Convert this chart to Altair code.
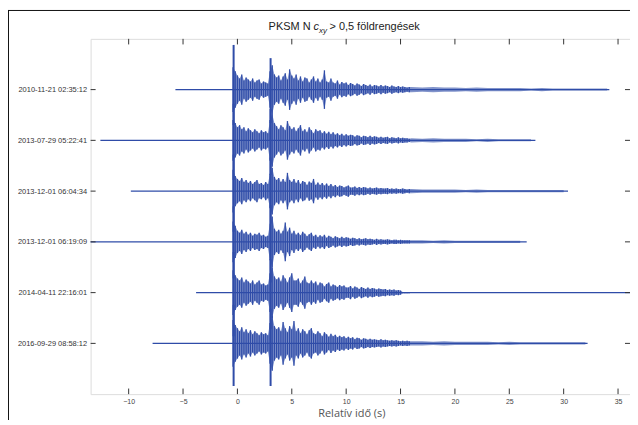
import altair as alt
import pandas as pd

# ---- data ----
TRACE_LABELS = ["2010-11-21 02:35:12", "2013-07-29 05:22:41", "2013-12-01 06:04:34",
                "2013-12-01 06:19:09", "2014-04-11 22:16:01", "2016-09-29 08:58:12"]
REC_START = [-5.7, -12.6, -9.8, -13.5, -3.8, -7.8]
REC_END = [34.2, 27.4, 30.4, 26.6, 36.1, 32.2]
X_TICKS = [-10, -5, 0, 5, 10, 15, 20, 25, 30, 35]
X_MIN, X_MAX = -13.5, 36.1

# envelope (% of trace spacing), sampled every 0.2 s from -0.4 s
ENV_T0, ENV_DT = -0.4, 0.2
ENV_1 = [44, 36, 28, 22, 30, 18, 24, 20, 16, 22, 14, 18, 20, 12, 16, 14, 12, 36, 48, 30,
         24, 28, 18, 26, 32, 20, 40, 28, 22, 30, 18, 26, 16, 24, 22, 14, 20, 26, 16, 22,
         14, 20, 38, 16, 14, 22, 14, 12, 18, 10, 15, 12, 14, 9, 13, 11, 8, 12, 10, 7,
         11, 9, 7, 10, 6, 9, 8, 6, 9, 6, 8, 7, 5, 8, 6, 5, 7, 5, 6, 5, 4, 5]
ENV_2 = [40, 34, 26, 30, 22, 26, 18, 24, 20, 16, 22, 18, 14, 20, 16, 18, 14, 40, 52, 34,
         28, 22, 30, 26, 20, 38, 28, 22, 26, 18, 24, 30, 18, 22, 16, 26, 20, 14, 22, 18,
         20, 14, 18, 13, 17, 12, 16, 11, 14, 10, 13, 9, 12, 9, 11, 10, 7, 10, 9, 6,
         9, 8, 6, 9, 6, 8, 7, 5, 7, 5, 6, 7, 4, 6, 5, 4, 6, 4, 5, 4, 4, 3]
ENV_3 = [42, 30, 24, 20, 26, 18, 22, 16, 20, 14, 18, 22, 14, 16, 12, 18, 14, 34, 46, 28,
         22, 26, 18, 24, 18, 36, 22, 18, 24, 16, 22, 14, 20, 18, 12, 19, 16, 24, 12, 17,
         12, 16, 11, 15, 10, 14, 9, 12, 8, 11, 10, 7, 9, 11, 7, 7, 9, 6, 8, 6,
         8, 7, 5, 7, 5, 6, 7, 5, 6, 5, 5, 6, 4, 5, 4, 5, 4, 4, 5, 4, 3, 4]
ENV_4 = [40, 32, 22, 18, 24, 16, 20, 14, 18, 12, 16, 14, 18, 12, 14, 10, 12, 36, 50, 26,
         20, 24, 16, 22, 38, 20, 28, 16, 22, 14, 18, 13, 20, 16, 11, 15, 18, 11, 14, 9,
         13, 10, 14, 8, 12, 10, 7, 11, 9, 7, 10, 7, 9, 8, 6, 8, 7, 5, 7, 5,
         6, 7, 5, 6, 5, 4, 6, 4, 5, 4, 4, 5, 4, 3, 4, 4, 3, 4, 3, 3, 3, 3]
ENV_5 = [44, 34, 28, 24, 30, 20, 26, 22, 18, 24, 16, 20, 24, 16, 18, 14, 16, 38, 50, 32,
         26, 30, 22, 34, 28, 20, 30, 38, 24, 24, 28, 18, 24, 32, 20, 18, 24, 18, 22, 14,
         20, 18, 12, 17, 20, 12, 16, 14, 11, 15, 12, 14, 10, 10, 13, 8, 12, 10, 7, 11,
         9, 7, 10, 7, 9, 8, 6, 8, 7, 6, 7, 5, 6, 5, 6, 4, 5, 4, 1, 1, 1, 1]
ENV_6 = [46, 36, 30, 24, 32, 22, 28, 20, 26, 18, 24, 20, 16, 22, 18, 20, 16, 40, 54, 34,
         28, 32, 24, 42, 30, 22, 34, 28, 44, 24, 30, 20, 28, 24, 18, 26, 30, 20, 18, 24,
         20, 14, 22, 18, 13, 19, 14, 17, 12, 15, 12, 14, 10, 13, 10, 12, 8, 11, 10, 7,
         10, 9, 7, 9, 7, 8, 7, 6, 8, 6, 7, 6, 5, 6, 5, 6, 5, 4, 5, 4, 5, 4]
# late coda envelope, every 1 s from 16 s
CODA_T0, CODA_DT = 16, 1
CODA_1 = [5, 4, 5, 4, 4, 3, 4, 3, 3, 3, 3, 2, 3, 2, 2, 2, 2, 2, 2]
CODA_2 = [4, 3, 4, 3, 3, 3, 2, 3, 2, 2, 2, 2]
CODA_3 = [4, 3, 3, 3, 3, 2, 3, 2, 2, 2, 2, 2, 2, 2, 2]
CODA_4 = [3, 3, 2, 3, 2, 2, 2, 2, 2, 2, 2]
CODA_5 = []
CODA_6 = [4, 4, 3, 4, 3, 3, 3, 3, 2, 3, 2, 2, 2, 2, 2, 2, 2]
# P and S arrival peaks (% of spacing, up / down)
P_TIME, S_TIME = -0.35, 3.05
P_UP = [88, 72, 72, 70, 80, 76]
P_DOWN = [70, 78, 80, 72, 86, 84]
S_UP = [62, 62, 66, 72, 66, 68]
S_DOWN = [66, 68, 64, 80, 72, 84]

ENVS = [ENV_1, ENV_2, ENV_3, ENV_4, ENV_5, ENV_6]
CODAS = [CODA_1, CODA_2, CODA_3, CODA_4, CODA_5, CODA_6]
N = len(TRACE_LABELS)
offset = [N - k for k in range(N)]  # top trace highest

base_rows, env_rows, act_rows, spk_rows = [], [], [], []
for k in range(N):
    o = offset[k]
    base_rows.append({"tr": k, "t": REC_START[k], "t2": REC_END[k], "y": o})
    for i, a in enumerate(ENVS[k]):
        t = round(ENV_T0 + ENV_DT * i, 2)
        r = {"tr": k, "t": t, "y": o - a / 100, "y2": o + a / 100}
        env_rows.append(r)
        act_rows.append(r)
    for i, a in enumerate(CODAS[k]):
        t = CODA_T0 + CODA_DT * i
        env_rows.append({"tr": k, "t": t, "y": o - a / 100, "y2": o + a / 100})
    spk_rows.append({"tr": k, "t": P_TIME, "y": o - P_DOWN[k] / 100, "y2": o + P_UP[k] / 100})
    spk_rows.append({"tr": k, "t": S_TIME, "y": o - S_DOWN[k] / 100, "y2": o + S_UP[k] / 100})

base_df = pd.DataFrame(base_rows)
env_df = pd.DataFrame(env_rows)
act_df = pd.DataFrame(act_rows)
spk_df = pd.DataFrame(spk_rows)

xt_rows = []
for v in X_TICKS:
    xt_rows.append({"t": v, "y": 0, "y2": 0.11})
    xt_rows.append({"t": v, "y": N + 1, "y2": N + 1 - 0.11})
xt_df = pd.DataFrame(xt_rows)
yt_rows = []
for o in offset:
    yt_rows.append({"t": X_MIN, "t2": X_MIN + 0.46, "y": o})
    yt_rows.append({"t": X_MAX - 0.46, "t2": X_MAX, "y": o})
yt_df = pd.DataFrame(yt_rows)

label_arr = "[''," + ",".join("'%s'" % TRACE_LABELS[N - v] for v in range(1, N + 1)) + "]"

W, H = 542, 357
PADL, PADT, PADR, PADB = 83, 30, 0, 26
BLUE = "#2f4ca8"

X = alt.X("t:Q", scale=alt.Scale(domain=[X_MIN, X_MAX], nice=False, zero=False),
          axis=alt.Axis(values=X_TICKS, title="Relatív idő (s)", ticks=False, domain=False,
                        grid=False, labelFontSize=7, labelColor="#444", labelPadding=3,
                        labelFont="Liberation Sans", titleFont="Open Sans", titleFontSize=11,
                        titleFontWeight="normal", titleColor="#555", titleX=262, titleY=22,
                        titleBaseline="alphabetic", titleAlign="center"))
Y = alt.Y("y:Q", stack=None, scale=alt.Scale(domain=[0, N + 1], nice=False, zero=False),
          axis=alt.Axis(values=list(range(1, N + 1)), labelExpr=label_arr + "[datum.value]",
                        title=None, ticks=False, domain=False, grid=False, labelFontSize=7.5,
                        labelColor="#333", labelPadding=4, labelFont="Liberation Sans"))

baseline = alt.Chart(base_df).mark_rule(color=BLUE, strokeWidth=1.3).encode(
    x=X, x2="t2:Q", y=Y, detail="tr:N")
band = alt.Chart(env_df).mark_area(color=BLUE, opacity=0.6, orient="vertical").encode(
    x=X, y=Y, y2="y2:Q", detail="tr:N")
wiggle = alt.Chart(act_df).mark_rule(color=BLUE, strokeWidth=1.3).encode(
    x=X, y=Y, y2="y2:Q")
spikes = alt.Chart(spk_df).mark_rule(color=BLUE, strokeWidth=2).encode(
    x=X, y=Y, y2="y2:Q")
xticks = alt.Chart(xt_df).mark_rule(color="#333", strokeWidth=1).encode(x=X, y=Y, y2="y2:Q")
yticks = alt.Chart(yt_df).mark_rule(color="#333", strokeWidth=1).encode(x=X, x2="t2:Q", y=Y)

one = pd.DataFrame({"a": [0]})
frame_left = alt.Chart(one).mark_rule(color="#111", strokeWidth=1).encode(
    x=alt.value(-PADL + 0.5), y=alt.value(-PADT + 1), y2=alt.value(H + PADB))
frame_top = alt.Chart(one).mark_rule(color="#111", strokeWidth=1).encode(
    x=alt.value(-PADL), x2=alt.value(W + PADR), y=alt.value(-PADT + 1.5))

TY = -9
t1 = alt.Chart(one).mark_text(text="PKSM N", align="right", baseline="alphabetic", fontSize=11,
                              font="Liberation Sans", color="#222").encode(
    x=alt.value(221), y=alt.value(TY))
t2 = alt.Chart(one).mark_text(text="c", align="left", baseline="alphabetic", fontSize=11,
                              font="Liberation Sans", fontStyle="italic", color="#222").encode(
    x=alt.value(224), y=alt.value(TY))
t3 = alt.Chart(one).mark_text(text="xy", align="left", baseline="alphabetic", fontSize=8,
                              font="Liberation Sans", fontStyle="italic", color="#222").encode(
    x=alt.value(229.5), y=alt.value(TY + 3))
t4 = alt.Chart(one).mark_text(text="> 0,5 földrengések", align="left", baseline="alphabetic",
                              fontSize=11, font="Liberation Sans", color="#222").encode(
    x=alt.value(240), y=alt.value(TY))

chart = alt.layer(baseline, band, wiggle, spikes, xticks, yticks,
                  frame_left, frame_top, t1, t2, t3, t4).properties(
    width=W, height=H, autosize=alt.AutoSizeParams(type="none"),
    padding={"left": PADL, "top": PADT, "right": PADR, "bottom": PADB},
).configure_view(stroke="#333", strokeWidth=1).configure(background="white")

chart.save("out.html", embed_options={"renderer": "svg", "actions": False})
